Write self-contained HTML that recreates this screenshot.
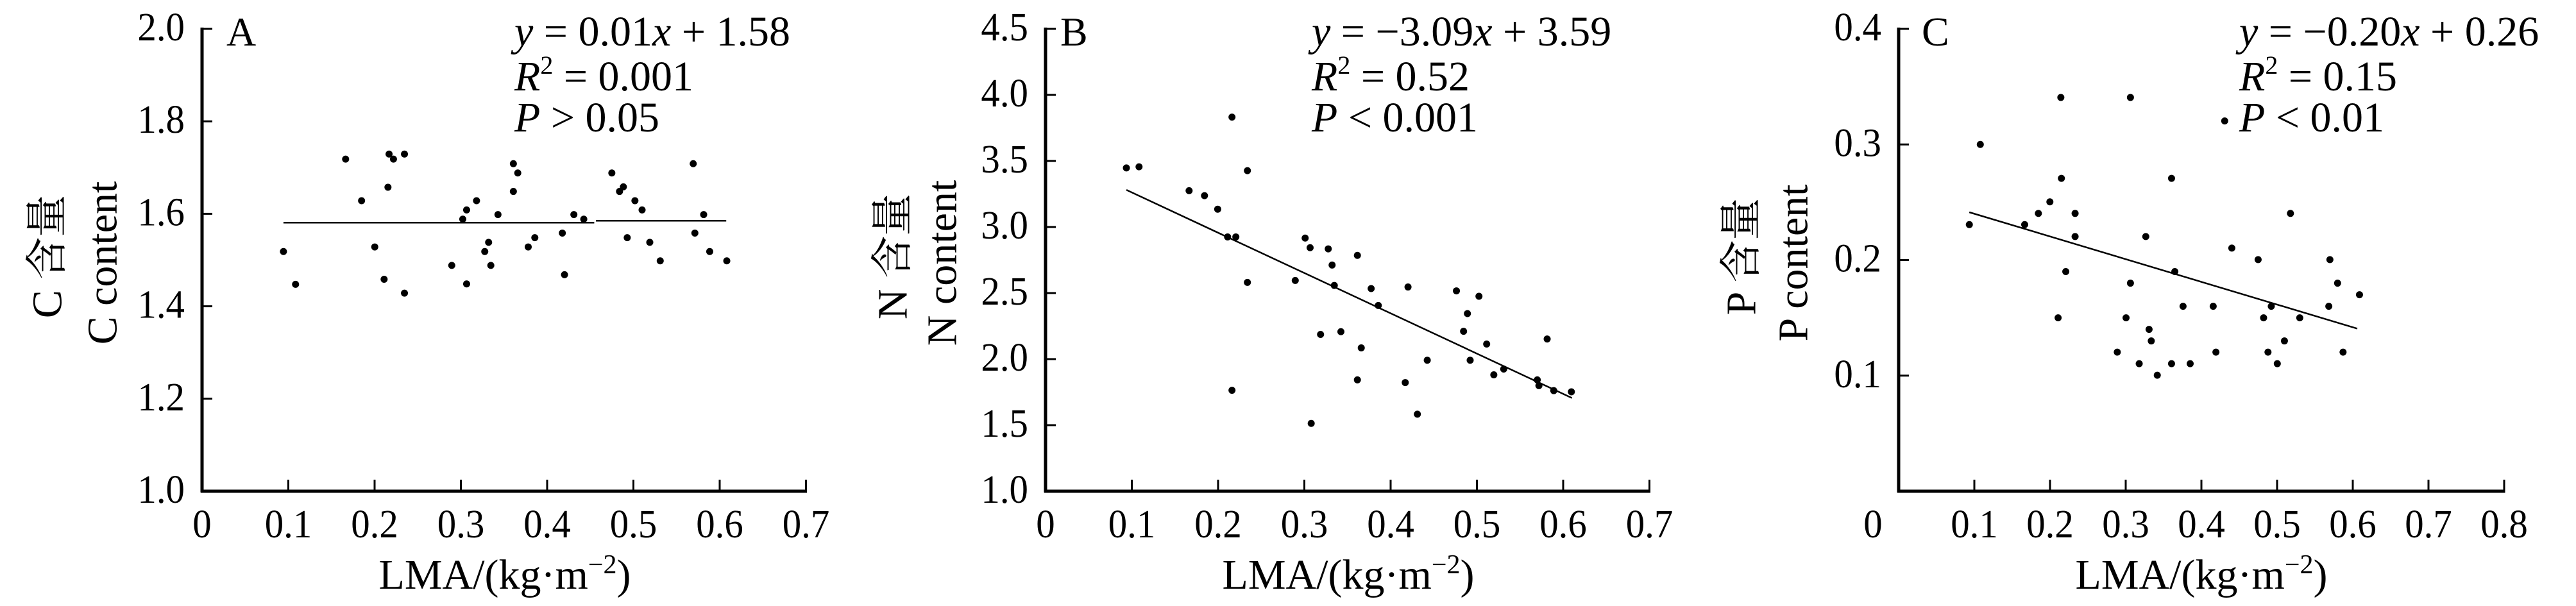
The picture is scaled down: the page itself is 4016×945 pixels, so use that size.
<!DOCTYPE html>
<html><head><meta charset="utf-8"><style>
html,body{margin:0;padding:0;background:#fff;}
svg{display:block;}
text{font-family:"Liberation Serif","Noto Serif CJK SC",serif;fill:#000;}
</style></head><body>
<svg id="s" width="4016" height="945" viewBox="0 0 4016 945" xmlns="http://www.w3.org/2000/svg"></svg>
<script>
var S=document.getElementById('s');var NS='http://www.w3.org/2000/svg';
function el(t,a,txt){var e=document.createElementNS(NS,t);for(var k in a)e.setAttribute(k,a[k]);if(txt!=null)e.textContent=txt;S.appendChild(e);return e;}
function ctext(x,y,s,anchor,size,sx){el('text',{transform:'translate('+x+','+y+') scale('+(sx||0.95)+',1)','text-anchor':anchor,'font-size':size||62},s);}
var Y0=45,Y1=766;
var panels=[
{ax:315,zx0:372,f:0.8575,n:7,step:134.5,yl:['1.0','1.2','1.4','1.6','1.8','2.0'],xl:['0','0.1','0.2','0.3','0.4','0.5','0.6','0.7'],zero:315,
 lab:'A',lx:353,annx:802,ann:[['y',' = 0.01','x',' + 1.58'],['R','2',' = 0.001'],['P',' > 0.05']],t1:'C 含量',t2:'C content',tx1:-241,tx2:-155,
 lines:[[520,575,1085,575],[1088,570,1325,570]],
 pts:[[520,650],[542,735],[633,410],[662,518],[686,638],[703,722],[710,483],[712,397],[720,410],[740,397],[740,758],[826,686],[846,566],[853,542],[853,734],[871,518],[886,650],[893,626],[897,686],[910,554],[938,422],[938,494],[946,446],[965,638],[977,614],[1027,602],[1031,710],[1048,554],[1066,566],[1117,446],[1131,494],[1138,482],[1145,614],[1159,518],[1172,542],[1186,626],[1205,674],[1265,422],[1268,602],[1284,554],[1295,650],[1326,674]]},
{ax:1630,zx0:343,f:0.8575,n:7,step:134.5,yl:['1.0','1.5','2.0','2.5','3.0','3.5','4.0','4.5'],xl:['0','0.1','0.2','0.3','0.4','0.5','0.6','0.7'],zero:1630,
 lab:'B',lx:1653,annx:2045,ann:[['y',' = −3.09','x',' + 3.59'],['R','2',' = 0.52'],['P',' < 0.001']],t1:'N 含量',t2:'N content',tx1:-238,tx2:-161,
 lines:[[490,490,1300,1030]],
 pts:[[490,433],[513,430],[604,492],[632,505],[656,540],[674,612],[682,301],[689,612],[682,1010],[710,440],[710,730],[797,725],[815,615],[824,640],[843,865],[826,1096],[857,643],[864,685],[868,738],[880,858],[910,660],[910,983],[917,900],[935,746],[948,790],[997,990],[1002,742],[1019,1072],[1037,932],[1090,752],[1103,857],[1110,811],[1115,932],[1131,766],[1145,890],[1158,970],[1176,955],[1237,983],[1240,998],[1255,877],[1267,1011],[1299,1014]]},
{ax:2960,zx0:333,f:0.8543,n:8,step:118,yl:['','0.1','0.2','0.3','0.4'],xl:['','0.1','0.2','0.3','0.4','0.5','0.6','0.7','0.8'],zero:2920,
 lab:'C',lx:2996,annx:3491,ann:[['y',' = −0.20','x',' + 0.26'],['R','2',' = 0.15'],['P',' < 0.01']],t1:'P 含量',t2:'P content',tx1:-245,tx2:-164,
 lines:[[462,548,1170,850]],
 pts:[[462,580],[482,372],[563,580],[588,551],[609,521],[629,250],[630,460],[624,822],[638,702],[655,551],[655,611],[732,911],[748,822],[756,250],[756,732],[772,941],[784,611],[790,852],[794,882],[805,971],[831,460],[831,941],[837,702],[852,792],[865,941],[907,792],[912,911],[928,311],[941,641],[989,671],[999,822],[1007,911],[1013,792],[1024,941],[1037,882],[1048,551],[1065,822],[1118,792],[1120,671],[1134,732],[1144,911],[1174,762]]}
];
panels.forEach(function(p){
 var X=function(zx){return p.ax+(zx-p.zx0)*p.f;};
 var Yz=function(zy){return Y0+(zy-72)*((Y1-Y0)/1200);};
 var xe=p.ax+p.n*p.step;
 el('line',{x1:p.ax,y1:Y0-2,x2:p.ax,y2:Y1+2,stroke:'#000','stroke-width':5});
 el('line',{x1:p.ax-2,y1:Y1,x2:xe+1.5,y2:Y1,stroke:'#000','stroke-width':5});
 var ny=p.yl.length-1;
 for(var i=0;i<=ny;i++){var y=Y1-(Y1-Y0)*i/ny;
  if(i>0)el('line',{x1:p.ax,y1:y,x2:p.ax+16,y2:y,stroke:'#000','stroke-width':3});
  if(p.yl[i])ctext(p.ax-27,y+18,p.yl[i],'end');}
 for(var j=1;j<=p.n;j++){var x=p.ax+j*p.step;el('line',{x1:x,y1:Y1,x2:x,y2:Y1-18,stroke:'#000','stroke-width':3});}
 for(var j=0;j<=p.n;j++){var x=p.ax+j*p.step;if(j==0)x=p.zero;var s=p.xl[j]||(j==0?'0':'');if(s)ctext(x,838,s,'middle');}
 var t=el('text',{x:p.ax+472,y:918,'text-anchor':'middle','font-size':66});
 t.innerHTML='LMA/(kg·m<tspan dy="-24" font-size="42">−2</tspan><tspan dy="24">)</tspan>';
 el('text',{transform:'translate('+(p.ax+p.tx1)+',400) rotate(-90)','text-anchor':'middle','dominant-baseline':'central','font-size':66},p.t1);
 el('text',{transform:'translate('+(p.ax+p.tx2)+',410) rotate(-90)','text-anchor':'middle','dominant-baseline':'central','font-size':66},p.t2);
 el('text',{x:p.lx,y:71,'font-size':64},p.lab);
 var a=p.ann;
 var t1=el('text',{x:p.annx,y:71,'font-size':66});t1.innerHTML='<tspan font-style="italic">'+a[0][0]+'</tspan>'+a[0][1]+'<tspan font-style="italic">'+a[0][2]+'</tspan>'+a[0][3];
 var t2=el('text',{x:p.annx,y:141,'font-size':66});t2.innerHTML='<tspan font-style="italic">'+a[1][0]+'</tspan><tspan dy="-26" font-size="40">'+a[1][1]+'</tspan><tspan dy="26">'+a[1][2]+'</tspan>';
 var t3=el('text',{x:p.annx,y:205,'font-size':66});t3.innerHTML='<tspan font-style="italic">'+a[2][0]+'</tspan>'+a[2][1];
 p.lines.forEach(function(l){el('line',{x1:X(l[0]),y1:Yz(l[1]),x2:X(l[2]),y2:Yz(l[3]),stroke:'#000','stroke-width':2.5});});
 p.pts.forEach(function(q){el('circle',{cx:X(q[0]),cy:Yz(q[1]),r:5.5,fill:'#000'});});
});
</script>
</body></html>
